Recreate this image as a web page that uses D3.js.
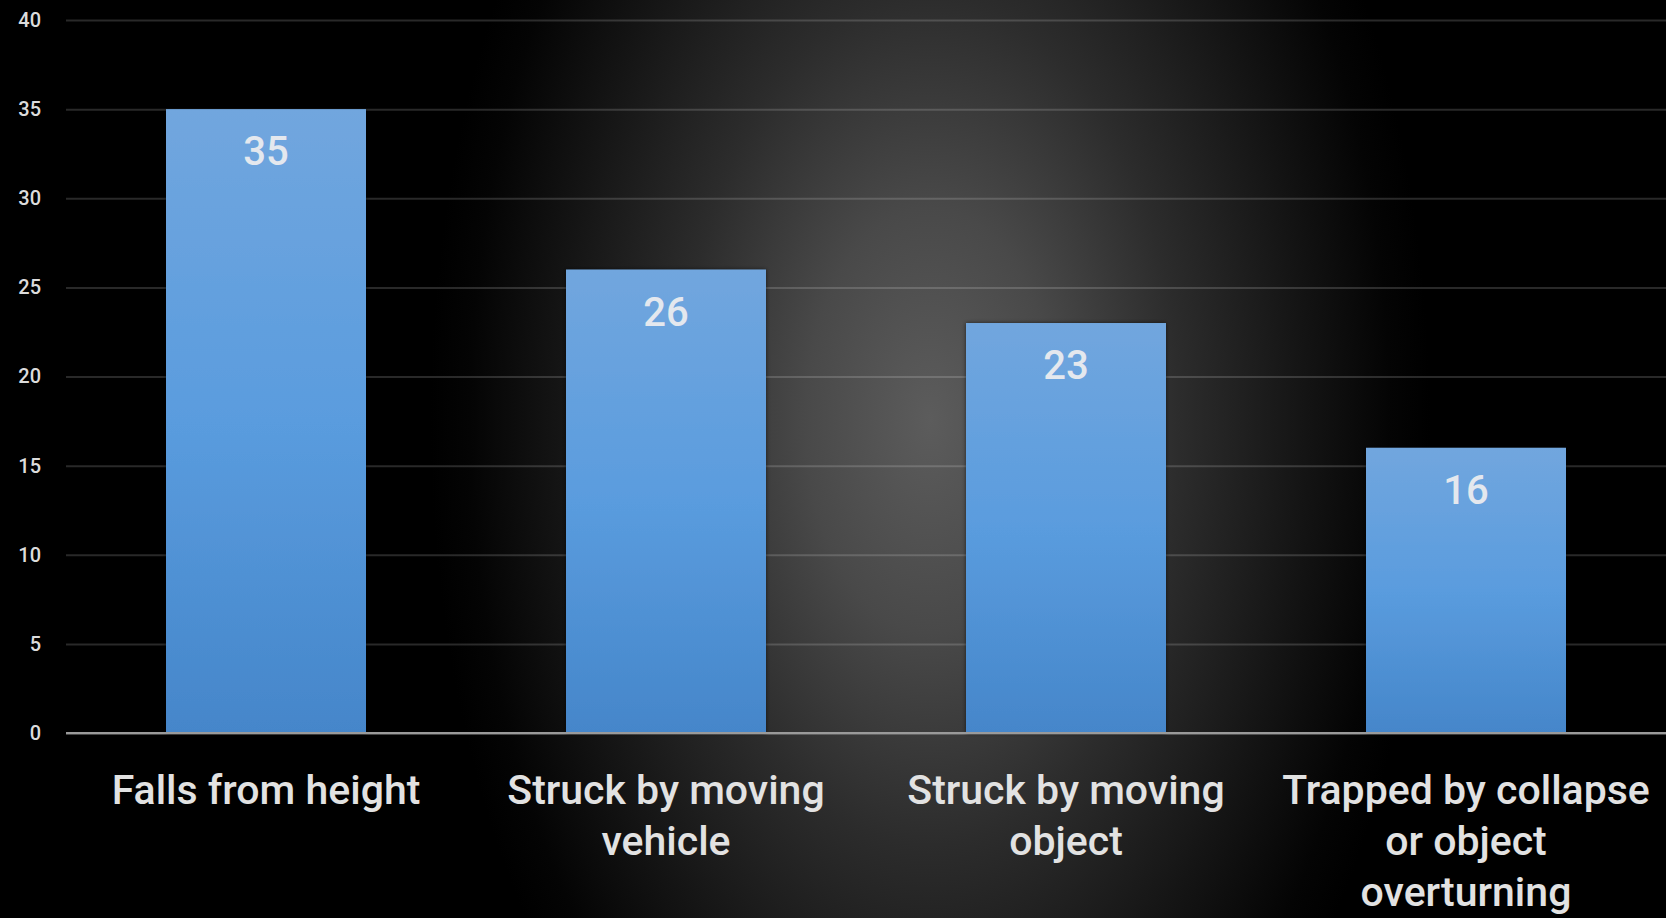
<!DOCTYPE html>
<html>
<head>
<meta charset="utf-8">
<script src="https://cdn.jsdelivr.net/npm/d3@7"></script>
<style>
  html, body { margin: 0; padding: 0; background: #000; overflow: hidden; }
  svg { display: block; }
</style>
</head>
<body>
<svg id="chart" width="1666" height="918"></svg>
<script>
// Fatal injury causes, counts per category
const categories = [
  ["Falls from height"],
  ["Struck by moving", "vehicle"],
  ["Struck by moving", "object"],
  ["Trapped by collapse", "or object", "overturning"]
];
const values = [35, 26, 23, 16];
const yTicks = [0, 5, 10, 15, 20, 25, 30, 35, 40];

const W = 1666, H = 918;
const margin = { left: 66, right: 0, top: 20, bottom: 185 };
const fontFamily = "Roboto, 'DejaVu Sans', sans-serif";

const svg = d3.select("#chart");
const defs = svg.append("defs");

// Background: black with a tall, soft grey spotlight in the middle
const glow = defs.append("radialGradient")
  .attr("id", "glow")
  .attr("gradientUnits", "userSpaceOnUse")
  .attr("cx", 0).attr("cy", 0).attr("r", 1)
  .attr("gradientTransform", "translate(930,420) scale(500,850)");
[[0, "#5c5c5c"], [0.25, "#494949"], [0.5, "#2c2c2c"], [0.75, "#141414"], [0.92, "#040404"], [1, "#000"]]
  .forEach(([o, c]) => glow.append("stop").attr("offset", o).attr("stop-color", c));

// Bar fill: lighter blue at the top, deeper blue at the base
const barGrad = defs.append("linearGradient")
  .attr("id", "barFill").attr("x1", 0).attr("y1", 0).attr("x2", 0).attr("y2", 1);
[[0, "#71a6de"], [0.5, "#5a9cde"], [1, "#4586ca"]]
  .forEach(([o, c]) => barGrad.append("stop").attr("offset", o).attr("stop-color", c));

const shadow = defs.append("filter").attr("id", "barShadow")
  .attr("x", "-10%").attr("y", "-10%").attr("width", "120%").attr("height", "120%");
shadow.append("feDropShadow").attr("dx", 0).attr("dy", 0).attr("stdDeviation", 2)
  .attr("flood-color", "#000").attr("flood-opacity", 0.6);

svg.append("rect").attr("width", W).attr("height", H).attr("fill", "#000");
svg.append("rect").attr("width", W).attr("height", H).attr("fill", "url(#glow)");

const x = d3.scaleBand()
  .domain(d3.range(values.length))
  .range([margin.left, W - margin.right])
  .paddingInner(0.5)
  .paddingOuter(0.25);

const y = d3.scaleLinear()
  .domain([0, 40])
  .range([H - margin.bottom, margin.top]);

// Horizontal gridlines and y tick labels
const yAxis = d3.axisLeft(y)
  .tickValues(yTicks)
  .tickSize(-(W - margin.left - margin.right))
  .tickPadding(25)
  .tickFormat(d3.format("d"));

const gy = svg.append("g")
  .attr("transform", `translate(${margin.left},0)`)
  .call(yAxis);
gy.select(".domain").remove();
gy.selectAll(".tick line")
  .attr("stroke", d => d === 0 ? "#8a8a8a" : "rgba(255,255,255,0.16)")
  .attr("stroke-width", 2);
gy.selectAll(".tick text")
  .attr("fill", "#dcdcdc")
  .attr("font-family", fontFamily)
  .attr("font-size", 20)
  .attr("font-weight", 500);

// Bars
svg.append("g").selectAll("rect")
  .data(values)
  .join("rect")
  .attr("x", (d, i) => x(i))
  .attr("y", d => y(d))
  .attr("width", x.bandwidth())
  .attr("height", d => y(0) - y(d))
  .attr("fill", "url(#barFill)")
  .attr("filter", "url(#barShadow)");

// Redraw the baseline over the bars
svg.append("line")
  .attr("x1", margin.left).attr("x2", W - margin.right)
  .attr("y1", y(0)).attr("y2", y(0))
  .attr("stroke", "#9a9a9a").attr("stroke-width", 2);

// Value labels inside the top of each bar
svg.append("g").selectAll("text")
  .data(values)
  .join("text")
  .attr("x", (d, i) => x(i) + x.bandwidth() / 2)
  .attr("y", d => y(d) + 56)
  .attr("text-anchor", "middle")
  .attr("fill", "#e4e8ee")
  .attr("font-family", fontFamily)
  .attr("font-size", 40)
  .attr("font-weight", 500)
  .text(d => d);

// Category labels, wrapped onto several lines
const catG = svg.append("g").selectAll("text")
  .data(categories)
  .join("text")
  .attr("x", (d, i) => x(i) + x.bandwidth() / 2)
  .attr("y", 804)
  .attr("text-anchor", "middle")
  .attr("fill", "#e2e2e2")
  .attr("font-family", fontFamily)
  .attr("font-size", 41)
  .attr("font-weight", 500);

catG.selectAll("tspan")
  .data(d => d)
  .join("tspan")
  .attr("x", function () { return d3.select(this.parentNode).attr("x"); })
  .attr("dy", (d, j) => j === 0 ? 0 : 51)
  .text(d => d);
</script>
</body>
</html>
